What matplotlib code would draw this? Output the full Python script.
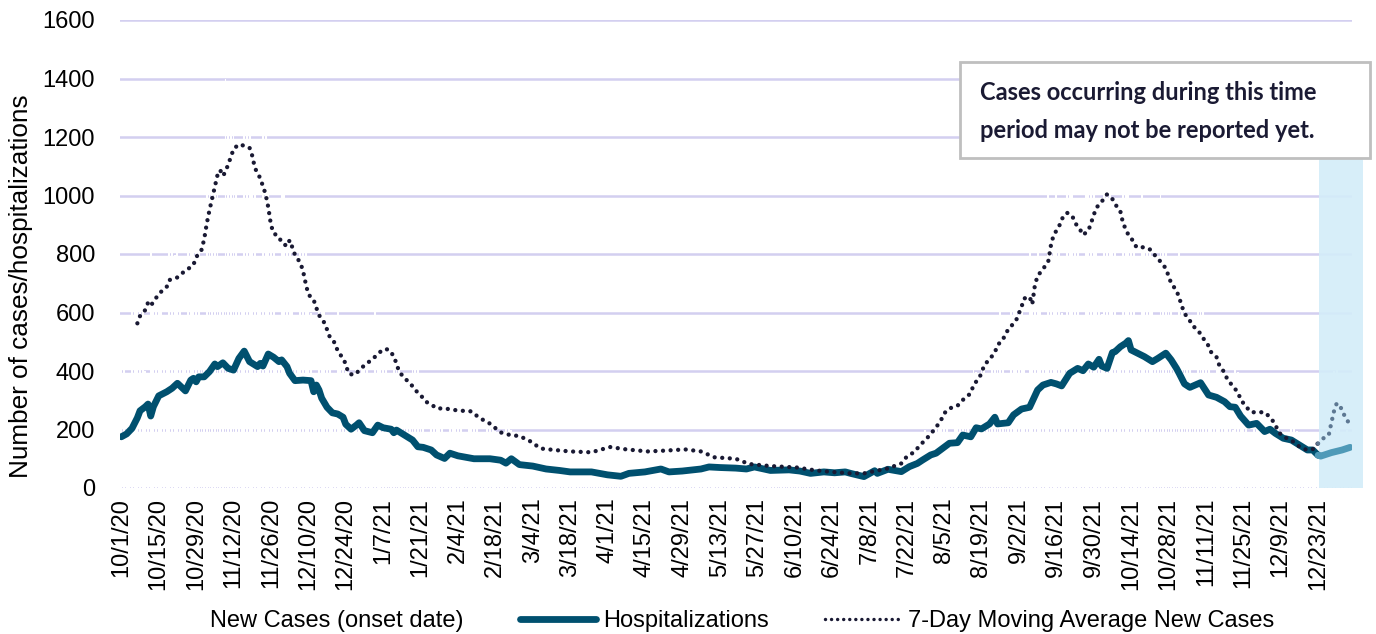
import numpy as np
import pandas as pd
import matplotlib
matplotlib.use('Agg')
import matplotlib.pyplot as plt
from matplotlib.patches import Rectangle, Patch
from matplotlib.lines import Line2D

# ---------------- data ----------------
start_date = '2020-10-01'
incomplete_from = '12/24/21'   # cases from this date may not be reported yet

tick_labels = ['10/1/20', '10/15/20', '10/29/20', '11/12/20', '11/26/20', '12/10/20',
               '12/24/20', '1/7/21', '1/21/21', '2/4/21', '2/18/21', '3/4/21', '3/18/21',
               '4/1/21', '4/15/21', '4/29/21', '5/13/21', '5/27/21', '6/10/21', '6/24/21',
               '7/8/21', '7/22/21', '8/5/21', '8/19/21', '9/2/21', '9/16/21', '9/30/21',
               '10/14/21', '10/28/21', '11/11/21', '11/25/21', '12/9/21', '12/23/21']

# daily new cases (onset date), one value per day from 10/1/20
new_cases = [
    465, 540, 350, 320, 700, 650, 620,
    680, 620, 400, 370, 805, 745, 715,
    760, 690, 450, 415, 895, 830, 795,
    825, 750, 490, 450, 975, 900, 865,
    990, 900, 585, 540, 1170, 1080, 1035,
    1190, 1080, 700, 650, 1400, 1295, 1240,
    1285, 1170, 760, 700, 1370, 1300, 1250,
    1120, 1020, 665, 610, 1325, 1225, 1175,
    935, 850, 555, 510, 1105, 1020, 980,
    835, 760, 495, 455, 990, 910, 875,
    660, 600, 390, 360, 780, 720, 690,
    530, 480, 310, 290, 625, 575, 550,
    435, 395, 255, 235, 515, 475, 455,
    495, 450, 295, 270, 680, 540, 520,
    495, 450, 295, 270, 585, 540, 520,
    385, 350, 230, 210, 455, 420, 405,
    320, 290, 190, 175, 375, 350, 335,
    290, 265, 170, 160, 345, 320, 305,
    255, 230, 150, 140, 300, 275, 265,
    210, 190, 125, 115, 245, 230, 220,
    195, 175, 115, 105, 230, 210, 200,
    160, 145, 95, 85, 190, 175, 165,
    145, 130, 85, 80, 170, 155, 150,
    140, 125, 80, 75, 165, 150, 145,
    140, 125, 80, 75, 165, 150, 145,
    145, 130, 85, 80, 170, 155, 150,
    150, 135, 90, 80, 175, 160, 155,
    140, 125, 80, 75, 165, 150, 145,
    140, 130, 85, 75, 165, 155, 145,
    140, 130, 85, 75, 165, 155, 145,
    120, 110, 70, 65, 145, 130, 125,
    110, 100, 65, 60, 130, 120, 115,
    95, 85, 55, 50, 110, 100, 100,
    85, 75, 50, 45, 100, 90, 85,
    75, 70, 45, 40, 90, 80, 80,
    65, 60, 40, 35, 80, 70, 70,
    60, 55, 35, 35, 70, 65, 65,
    60, 55, 35, 35, 70, 65, 65,
    60, 55, 35, 35, 70, 65, 65,
    60, 55, 35, 35, 70, 65, 65,
    70, 65, 40, 40, 85, 80, 75,
    95, 85, 55, 50, 110, 100, 100,
    130, 120, 80, 70, 155, 145, 140,
    200, 180, 115, 110, 235, 215, 205,
    295, 270, 175, 160, 350, 325, 310,
    365, 330, 215, 200, 430, 395, 380,
    495, 450, 295, 270, 585, 540, 520,
    605, 550, 360, 330, 715, 660, 635,
    705, 640, 415, 385, 830, 770, 735,
    860, 780, 505, 470, 1015, 935, 895,
    1010, 920, 600, 550, 1195, 1105, 1060,
    970, 880, 570, 530, 1145, 1055, 1010,
    1090, 990, 645, 595, 1285, 1190, 1140,
    990, 900, 585, 540, 1170, 1080, 1035,
    900, 820, 535, 490, 1065, 985, 945,
    860, 780, 505, 470, 1015, 935, 895,
    725, 660, 430, 395, 860, 790, 760,
    595, 540, 350, 325, 700, 650, 620,
    475, 430, 280, 260, 560, 515, 495,
    365, 330, 215, 200, 430, 395, 380,
    285, 260, 170, 155, 340, 310, 300,
    265, 240, 155, 145, 310, 290, 275,
    185, 170, 110, 100, 220, 205, 195,
    150, 135, 90, 80, 175, 160, 155,
    160, 170, 110, 120, 350, 380, 400,
    420, 380, 150, 130, 200, 150,
]

# hospitalizations (days since 10/1/20, value)
hosp_day = [0, 2, 4, 6, 7, 9, 10, 11, 12, 14, 17, 19, 21, 24, 26, 27, 28, 29, 31, 33,
            35, 36, 38, 40, 42, 44, 46, 48, 51, 52, 53, 55, 57, 59, 60, 62, 63, 65, 68, 71,
            72, 73, 74, 75, 77, 79, 81, 83, 84, 86, 88, 89, 91, 94, 96, 98, 101, 102, 103, 106,
            109, 111, 113, 116, 118, 121, 123, 126, 132, 138, 142, 144, 146, 149, 154, 159, 164, 168, 176, 182,
            187, 190, 196, 202, 205, 210, 217, 220, 224, 230, 234, 237, 243, 250, 254, 258, 263, 267, 271, 273,
            278, 282, 283, 287, 292, 295, 298, 300, 303, 305, 310, 313, 315, 318, 320, 322, 325, 327, 328, 332,
            334, 337, 340, 343, 345, 348, 350, 352, 355, 358, 360, 362, 364, 366, 367, 369, 371, 372, 374, 376,
            377, 378, 381, 383, 386, 388, 390, 391, 393, 395, 396, 398, 400, 403, 404, 407, 410, 413, 415, 417,
            419, 422, 425, 428, 430, 432, 435, 438, 441, 444, 446, 448, 449, 453, 457, 460]
hosp_val = [175, 185, 204, 240, 264, 278, 287, 246, 278, 315, 329, 341, 358, 332, 369, 375, 363, 380, 380, 398,
            424, 415, 428, 409, 403, 443, 468, 432, 415, 426, 417, 458, 447, 432, 438, 415, 392, 367, 369, 367,
            329, 352, 335, 307, 276, 257, 253, 242, 218, 201, 215, 223, 196, 189, 215, 206, 201, 189, 198, 181,
            164, 141, 139, 130, 113, 101, 119, 110, 100, 100, 95, 85, 100, 80, 75, 65, 60, 55, 55, 45,
            40, 50, 55, 65, 55, 58, 65, 72, 70, 68, 65, 72, 60, 62, 58, 50, 55, 52, 55, 50,
            39, 59, 50, 64, 56, 73, 84, 96, 113, 119, 153, 155, 181, 175, 206, 202, 219, 242, 219, 223,
            250, 270, 276, 335, 352, 361, 356, 349, 392, 409, 401, 424, 413, 440, 417, 409, 463, 466, 483, 495,
            504, 472, 458, 449, 432, 443, 455, 461, 438, 409, 392, 356, 344, 356, 360, 318, 310, 295, 278, 276,
            246, 215, 221, 193, 201, 187, 170, 164, 147, 130, 130, 112, 109, 121, 130, 139]

# 7-day moving average of new cases (days since 10/1/20, value)
ma_day = [6, 7, 9, 10, 11, 13, 15, 17, 18, 21, 23, 25, 27, 28, 30, 31, 32, 33, 34, 35,
          36, 37, 38, 39, 40, 41, 42, 44, 46, 48, 49, 50, 52, 53, 54, 55, 56, 57, 59, 60,
          62, 63, 64, 65, 67, 68, 69, 70, 72, 73, 74, 76, 77, 78, 80, 81, 83, 84, 85, 87,
          89, 91, 94, 96, 98, 100, 102, 103, 104, 106, 108, 110, 112, 114, 116, 118, 121, 126, 131, 134,
          138, 142, 146, 149, 153, 157, 162, 168, 176, 179, 183, 189, 197, 204, 211, 217, 222, 230, 235, 243,
          253, 260, 266, 273, 278, 287, 292, 294, 297, 299, 301, 303, 305, 307, 308, 310, 313, 315, 318, 319,
          321, 322, 323, 325, 327, 328, 330, 331, 333, 335, 336, 337, 338, 340, 341, 342, 343, 345, 347, 348,
          349, 351, 352, 354, 356, 357, 359, 360, 362, 363, 364, 365, 367, 369, 371, 372, 374, 375, 377, 379,
          380, 383, 385, 387, 389, 391, 392, 393, 395, 396, 397, 398, 400, 401, 403, 405, 407, 408, 410, 411,
          413, 414, 416, 418, 419, 421, 423, 425, 428, 430, 432, 433, 435, 438, 440, 443, 446, 447, 448, 450,
          452, 453, 454, 455, 457, 458, 460]
ma_val = [563, 588, 609, 634, 623, 650, 672, 688, 711, 720, 736, 749, 763, 789, 814, 850, 905, 950, 990, 1030,
          1070, 1087, 1067, 1081, 1107, 1131, 1159, 1175, 1170, 1163, 1136, 1094, 1059, 1032, 1005, 960, 900, 871, 859, 839,
          827, 847, 823, 797, 770, 743, 700, 662, 643, 616, 591, 565, 542, 517, 495, 468, 443, 424, 392, 386,
          401, 420, 440, 458, 474, 474, 451, 424, 398, 375, 360, 335, 318, 295, 286, 272, 272, 265, 262, 240,
          220, 190, 180, 178, 160, 135, 130, 125, 122, 130, 140, 132, 125, 128, 132, 125, 105, 100, 82, 75,
          70, 60, 55, 50, 50, 67, 84, 107, 124, 147, 164, 185, 207, 235, 255, 272, 281, 301, 324, 352,
          375, 392, 420, 440, 463, 489, 506, 529, 552, 574, 597, 620, 648, 654, 628, 694, 725, 748, 775, 830,
          865, 893, 919, 941, 930, 907, 882, 865, 880, 905, 933, 958, 979, 1004, 988, 971, 945, 905, 865, 842,
          823, 823, 816, 795, 774, 751, 725, 700, 675, 651, 622, 597, 572, 555, 540, 512, 486, 464, 447, 420,
          394, 372, 349, 327, 303, 278, 259, 259, 259, 242, 218, 193, 175, 164, 147, 132, 132, 149, 152, 170,
          181, 224, 264, 290, 269, 244, 216]

# ---------------- figure ----------------
plt.rcParams['font.family'] = ['Liberation Sans', 'DejaVu Sans']

W, H = 1376, 634
fig = plt.figure(figsize=(W / 100, H / 100), dpi=100)
ax = fig.add_axes([120 / W, 1 - 488 / H, (1352 - 120) / W, (488 - 20) / H])

start = pd.Timestamp(start_date)
days = np.arange(len(new_cases))
lag_day = (pd.to_datetime(incomplete_from, format='%m/%d/%y') - start).days
tick_pos = [(pd.to_datetime(t, format='%m/%d/%y') - start).days for t in tick_labels]

grid_c = '#d3cff0'
ax.set_ylim(0, 1600)
ax.set_xlim(-0.5, 460.7)
ax.set_yticks(np.arange(0, 1601, 200))
ax.yaxis.grid(True, color=grid_c, lw=1.8, zorder=1)
ax.set_axisbelow(True)
for s in ax.spines.values():
    s.set_visible(False)

# daily case bars (white, nearly invisible; they break the gridlines)
ax.bar(days, new_cases, width=0.72, color='white', edgecolor='none', zorder=2)

# shaded "not yet reported" period
shade = Rectangle((lag_day - 0.5, 0), 464.8 - (lag_day - 0.5), 1135, facecolor='#d3edf9',
                  edgecolor='none', alpha=0.9, zorder=2.5, clip_on=False)
ax.add_patch(shade)

hd = np.array(hosp_day); hv = np.array(hosp_val)
md = np.array(ma_day); mv = np.array(ma_val)
cut = lag_day - 1

hosp_c = '#00506f'
ma_c = '#191933'
hlw = 4.9
mlw = 3.1
ax.plot(hd[hd <= cut], hv[hd <= cut], color=hosp_c, lw=hlw, solid_joinstyle='round',
        solid_capstyle='round', zorder=4)
ax.plot(hd[hd >= cut], hv[hd >= cut], color='#4f9ab8', lw=hlw, solid_joinstyle='round',
        solid_capstyle='round', zorder=4)
dot = (0, (0.01, 1.75))
ax.plot(md[md <= cut], mv[md <= cut], color=ma_c, lw=mlw, linestyle=dot, dash_capstyle='round', zorder=5)
ax.plot(md[md >= cut], mv[md >= cut], color='#5d7893', lw=mlw, linestyle=dot, dash_capstyle='round', zorder=5)

ax.set_xticks(tick_pos)
ax.set_xticklabels(tick_labels, rotation=90, fontsize=17)
ax.tick_params(axis='x', length=0, pad=7)
ax.tick_params(axis='y', length=0, pad=18, labelsize=17)
ax.set_ylabel('Number of cases/hospitalizations', fontsize=18.8)
ax.yaxis.set_label_coords(-0.0705, (488 - 286) / 468)

# annotation box
box = Rectangle((960 / W, 1 - 158 / H), 410 / W, 96 / H, transform=fig.transFigure,
                facecolor='white', edgecolor='#bfbfbf', lw=2, zorder=10)
fig.add_artist(box)
fig.text(980 / W, 1 - 92 / H, 'Cases occurring during this time', fontsize=17,
         fontweight='bold', family=['Lato', 'DejaVu Sans'], color='#1a1a33', va='center',
         ha='left', zorder=11)
fig.text(980 / W, 1 - 130 / H, 'period may not be reported yet.', fontsize=17,
         fontweight='bold', family=['Lato', 'DejaVu Sans'], color='#1a1a33', va='center',
         ha='left', zorder=11)

# legend
handles = [Patch(facecolor='white', edgecolor='none'),
           Line2D([], [], color=hosp_c, lw=hlw, solid_capstyle='round'),
           Line2D([], [], color=ma_c, lw=mlw * 0.8, linestyle=dot, dash_capstyle='round')]
labels = ['New Cases (onset date)', 'Hospitalizations', '7-Day Moving Average New Cases']
fig.legend(handles, labels, loc='center', bbox_to_anchor=(701 / W, 1 - 621 / H), ncol=3,
           frameon=False, fontsize=17, handlelength=3.2, handletextpad=0.3, columnspacing=2.4)

fig.savefig('out.png', dpi=100)
